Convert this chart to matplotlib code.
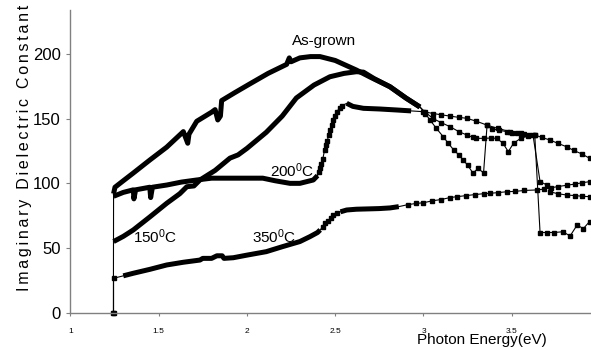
import numpy as np
import matplotlib
matplotlib.use("Agg")
import matplotlib.pyplot as plt

plt.rcParams['font.family'] = ['Liberation Sans', 'DejaVu Sans']
plt.rcParams['mathtext.default'] = 'regular'

# ---- data (photon energy in eV, imaginary dielectric constant)
asg_x = [1.244, 1.245, 1.253, 1.30, 1.357, 1.45, 1.546, 1.64, 1.665, 1.672, 1.716, 1.80, 1.82, 1.835,
         1.85, 1.857, 1.93, 2.018, 2.12, 2.225, 2.24, 2.25, 2.30, 2.36, 2.414, 2.50, 2.62, 2.70, 2.81,
         2.90, 2.98, 3.01, 3.037, 3.07, 3.112, 3.14, 3.17, 3.20, 3.225, 3.25, 3.28, 3.31, 3.34, 3.36,
         3.39, 3.43, 3.47, 3.50, 3.53, 3.57, 3.60, 3.63, 3.66, 3.70, 3.74, 3.79, 3.83, 3.87, 3.905, 3.94]
asg_y = [0, 92, 97, 102, 108, 118, 128, 140, 131, 138, 148, 155, 157, 149,
         152, 164, 170, 177, 185, 192, 197, 194, 197, 198, 198, 195, 187.6, 182, 174.7,
         166, 159, 154, 149, 143, 136, 131, 126, 122, 118, 114, 108, 111.6, 108, 145,
         142, 141, 140, 139, 138.7, 138, 137.5, 137.4, 62, 62, 62, 62.6, 59.3, 67.8, 65, 70.4]

t150_x = [1.245, 1.30, 1.357, 1.45, 1.546, 1.62, 1.66, 1.70, 1.734, 1.82, 1.904, 1.95, 2.0, 2.11,
          2.20, 2.28, 2.38, 2.47, 2.55, 2.62, 2.66, 2.72, 2.81, 2.90, 2.98, 3.01, 3.055, 3.10, 3.15,
          3.20, 3.245, 3.28, 3.30, 3.34, 3.38, 3.415, 3.45, 3.48, 3.51, 3.55, 3.59, 3.62, 3.66, 3.70,
          3.716, 3.76, 3.81, 3.86, 3.90, 3.94]
t150_y = [55, 59, 64, 74, 84.6, 92, 97.4, 98, 102.6, 110, 119.5, 122, 127, 139.5,
          152, 166, 176, 182.4, 185, 186.3, 186, 181, 174.7, 166, 159, 155, 150, 147, 143.8,
          140, 137.4, 135.5, 134.8, 134.8, 135, 134.8, 131, 124.5, 131, 134.8, 136.5, 137.4, 101.3, 98.7,
          93.5, 92, 91, 90.5, 90, 89.7]

t200_x = [1.245, 1.30, 1.357, 1.36, 1.37, 1.45, 1.455, 1.465, 1.546, 1.63, 1.716, 1.80, 1.923, 2.0,
          2.09, 2.16, 2.244, 2.30, 2.376, 2.40, 2.407, 2.414, 2.422, 2.43, 2.44, 2.447, 2.455, 2.463,
          2.47, 2.48, 2.49, 2.50, 2.508, 2.525, 2.54, 2.565, 2.60, 2.66, 2.75, 2.85, 2.93, 3.0,
          3.055, 3.10, 3.15, 3.20, 3.245, 3.30, 3.36, 3.42, 3.49, 3.55, 3.63, 3.67, 3.716, 3.76,
          3.81, 3.85, 3.90, 3.94]
t200_y = [90, 93, 95, 88, 95, 97, 89, 97, 98.7, 101, 102.6, 104, 104, 104,
          104, 102, 100, 100, 102.6, 106, 108.5, 111.6, 115, 119, 125.8, 129.5, 133, 137,
          141, 145, 149, 152, 155.4, 158, 160, 161.9, 159.5, 158, 157.5, 156.7, 156, 155.4,
          154, 153, 152, 151, 150.3, 148, 145, 142.5, 140, 139, 137.4, 135.5, 133.5, 131,
          128.3, 125.5, 122.5, 119.4]

t350_x = [1.245, 1.245, 1.30, 1.357, 1.45, 1.546, 1.64, 1.734, 1.75, 1.80, 1.83, 1.86, 1.87, 1.923,
          2.0, 2.11, 2.20, 2.30, 2.357, 2.40, 2.415, 2.43, 2.445, 2.46, 2.475, 2.49, 2.51, 2.53,
          2.565, 2.62, 2.70, 2.75, 2.81, 2.86, 2.91, 2.96, 3.0, 3.05, 3.10, 3.15, 3.19, 3.24, 3.29,
          3.34, 3.376, 3.42, 3.47, 3.52, 3.57, 3.64, 3.68, 3.72, 3.76, 3.81, 3.86, 3.90, 3.94]
t350_y = [0, 26.6, 28.5, 30.5, 33.5, 36.9, 39, 40.7, 42, 42, 44, 44, 42, 42.5,
          44.5, 47.2, 51, 55, 58.8, 62, 64, 66.5, 69, 71, 73.5, 75.5, 77, 78,
          79.4, 80, 80.3, 80.5, 81, 82, 83.5, 84.5, 85, 86.5, 87.5, 89, 89.7, 90.5, 91.3,
          92, 92.3, 92.8, 93.5, 93.8, 94.5, 94.9, 95.5, 96.5, 97.5, 98.5, 99.5, 100.5, 101.3]

# energy ranges where the measured points are so dense they merge into a solid band
series = [
    (asg_x, asg_y, [(1.245, 2.98)]),
    (t150_x, t150_y, [(1.245, 2.98)]),
    (t200_x, t200_y, [(1.245, 2.40), (2.56, 2.93)]),
    (t350_x, t350_y, [(1.246, 2.42), (2.53, 2.88)]),
]

fig = plt.figure(figsize=(5.91, 3.5), dpi=100)
ax = fig.add_axes([70.3 / 591, (350 - 312.7) / 350, 1 - 70.3 / 591, (312.7 - 10) / 350])

for sx, sy, dense in series:
    sx = np.array(sx)
    sy = np.array(sy)
    in_dense = np.zeros(len(sx), dtype=bool)
    for a, b in dense:
        m = (sx >= a) & (sx <= b)
        in_dense |= m
        ax.plot(sx[m], sy[m], color='black', lw=3.6, solid_capstyle='butt', clip_on=False)
    ax.plot(sx, sy, color='black', lw=0.8, marker='s', ms=2.8, markevery=list(~in_dense),
            clip_on=False)

ax.text(2.255, 207, 'As-grown', fontsize=11, ha='left', va='baseline')
ax.text(2.131, 105, '200$^0$C', fontsize=11, ha='left', va='baseline')
ax.text(1.357, 54, '150$^0$C', fontsize=11, ha='left', va='baseline')
ax.text(2.03, 54, '350$^0$C', fontsize=11, ha='left', va='baseline')

ax.set_xlim(1, 1 + (591 - 70.3) / 176.6)
ax.set_ylim(0, (312.7 - 10) / 1.2935)
ax.set_xticks([1, 1.5, 2, 2.5, 3, 3.5])
ax.set_xticklabels(['1', '1.5', '2', '2.5', '3', '3.5'])
ax.set_yticks([0, 50, 100, 150, 200])

for s in ['top', 'right']:
    ax.spines[s].set_visible(False)
for s in ['left', 'bottom']:
    ax.spines[s].set_color('#808080')
    ax.spines[s].set_linewidth(1.0)

ax.tick_params(axis='x', direction='out', length=2, width=0.8, color='#808080', labelsize=6, pad=9)
ax.tick_params(axis='y', direction='out', length=3, width=0.8, color='#808080', labelsize=12, pad=4)

# wide letter spacing as in the original label
ylab = '\u200a\u200a'.join('Imaginary Dielectric Constant')
fig.text(32 / 591, 1 - 148 / 350, ylab, rotation=90, fontsize=11.5, ha='right', va='center')
ax.text(0.79, -0.103, 'Photon Energy(eV)', transform=ax.transAxes, fontsize=11,
        ha='center', va='baseline')

fig.savefig('out.png', dpi=100)
